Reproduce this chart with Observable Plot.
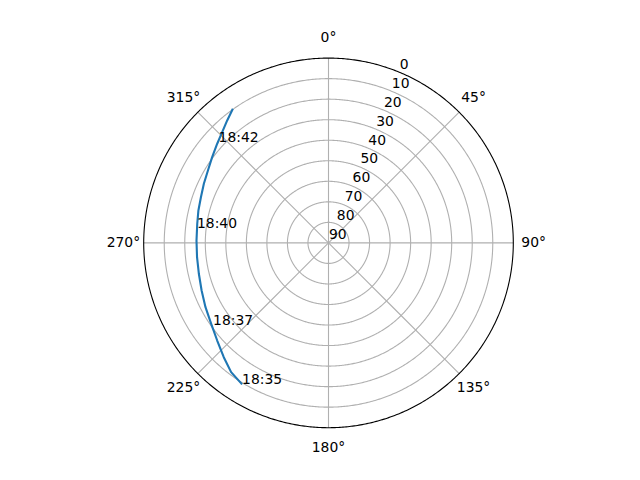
<!DOCTYPE html>
<html>
<head>
<meta charset="utf-8">
<script src="https://cdn.jsdelivr.net/npm/d3@7"></script>
<script src="https://cdn.jsdelivr.net/npm/@observablehq/plot@0.6"></script>
<style>
  html, body { margin: 0; padding: 0; background: #fff; }
</style>
</head>
<body>
<div id="chart"></div>
<script>
// Satellite pass track (azimuth in degrees clockwise from north, elevation in degrees)
const trackAz = [211.4, 217.0, 222.5, 228.75, 235.4, 242.4, 249.45, 256.6, 263.8, 271.0, 278.3, 284.0, 289.7, 295.4, 301.0, 306.4, 311.7, 316.2, 320.4, 324.5];
const trackEl = [9.25, 11.2, 14.5, 17.9, 20.6, 22.4, 24.0, 25.1, 25.6, 25.7, 25.4, 24.7, 24.0, 22.8, 21.5, 19.6, 17.4, 15.2, 12.6, 9.8];

// Time annotations along the track
const labelTimes = ["18:35", "18:37", "18:40", "18:42"];
const labelAz = [211.4, 234.4, 276.4, 312.5];
const labelEl = [9.25, 20.85, 25.55, 17.4];

// Axis ticks
const elevationTicks = [0, 10, 20, 30, 40, 50, 60, 70, 80, 90];
const azimuthTicks = [0, 45, 90, 135, 180, 225, 270, 315];

const track = trackAz.map((az, i) => ({az, el: trackEl[i]}));
const labels = labelTimes.map((t, i) => ({t, az: labelAz[i], el: labelEl[i]}));

// azimuth (clockwise from north) -> longitude for a north-polar azimuthal projection
const lon = az => 180 - az;

const R = 184.8;
const projection = d3.geoAzimuthalEquidistant()
  .rotate([0, -90])
  .scale(R / (Math.PI / 2))
  .translate([328, 242.4]);

const ringGeo = el => d3.geoCircle().center([0, 90]).radius(90 - el).precision(0.5)();

const gridRings = elevationTicks.filter(e => e > 0 && e < 90).map(ringGeo);
const outerRing = [ringGeo(0)];

const plot = Plot.plot({
  width: 640,
  height: 480,
  margin: 0,
  projection,
  style: {fontFamily: "DejaVu Sans", fontSize: "13.9px", background: "#fff", color: "#000"},
  marks: [
    Plot.geo(gridRings, {stroke: "#b0b0b0", strokeWidth: 1.1, fill: "none"}),
    Plot.link(azimuthTicks, {
      x1: a => lon(a), y1: () => 90, x2: a => lon(a), y2: () => 0,
      stroke: "#b0b0b0", strokeWidth: 1.1
    }),
    Plot.geo(outerRing, {stroke: "#000", strokeWidth: 1.1, fill: "none"}),
    Plot.line(track, {x: d => lon(d.az), y: d => d.el, stroke: "#1f77b4", strokeWidth: 2.1, strokeLinejoin: "round", strokeLinecap: "butt"}),
    Plot.text(azimuthTicks, {
      x: a => lon(a), y: () => -9.9, text: a => a + "°",
      fill: "#000", textAnchor: "middle", lineAnchor: "middle"
    }),
    Plot.text(elevationTicks, {
      x: () => lon(22.5), y: e => e, text: e => String(e),
      fill: "#000", textAnchor: "start", lineAnchor: "middle", dx: 0.5, dy: -8
    }),
    Plot.text(labels, {
      x: d => lon(d.az), y: d => d.el, text: d => d.t,
      fill: "#000", textAnchor: "start", lineAnchor: "middle", dy: -5
    })
  ]
});
document.getElementById("chart").appendChild(plot);
</script>
</body>
</html>
